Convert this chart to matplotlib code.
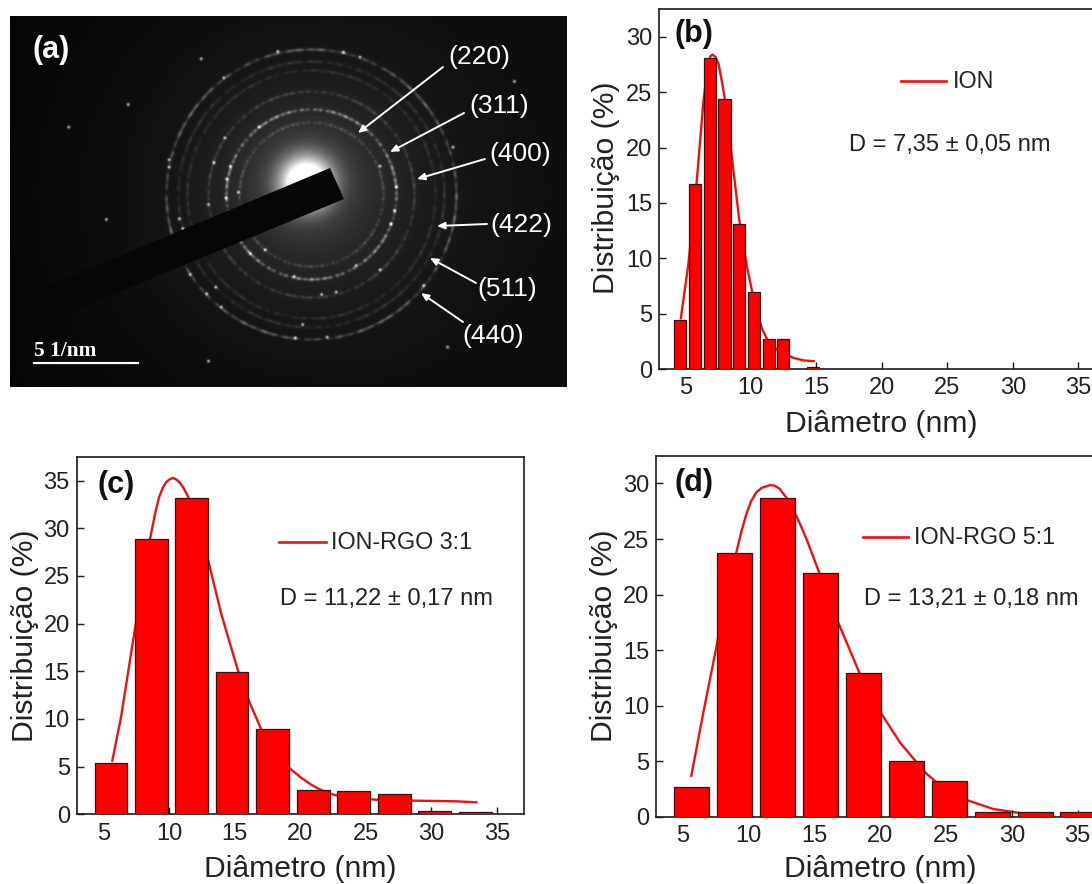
import numpy as np
import matplotlib
matplotlib.use("Agg")
import matplotlib.pyplot as plt
from matplotlib.lines import Line2D
from matplotlib.patches import Polygon

plt.rcParams['font.family'] = ['Liberation Sans', 'DejaVu Sans']

W, H = 1092, 884
RED = '#ff0000'
DARK = '#1c1c1c'

# ---- histogram data ----
b_centers = [4.6, 5.74, 6.86, 8.0, 9.12, 10.24, 11.39, 12.48, 14.75]
b_heights = [4.4, 16.7, 28.1, 24.4, 13.1, 7.0, 2.7, 2.7, 0.2]
b_curve_x = [4.67, 5.25, 5.89, 6.4, 6.6, 6.78, 6.95, 7.11, 7.3, 7.54, 7.75, 8.0, 8.56, 9.12, 9.71, 10.24, 10.5, 10.85, 11.2, 11.49, 12.0, 12.5, 13.27, 14.03, 14.8]
b_curve_y = [4.6, 9.57, 17.09, 24.3, 26.2, 27.9, 28.3, 28.4, 28.2, 27.6, 26.3, 24.6, 19.2, 13.5, 9.27, 6.26, 5.0, 3.7, 2.8, 2.2, 1.75, 1.44, 1.0, 0.78, 0.7]

c_centers = [5.55, 8.64, 11.72, 14.78, 17.9, 20.98, 24.07, 27.18, 30.26, 33.35]
c_heights = [5.4, 28.9, 33.2, 14.9, 8.95, 2.6, 2.4, 2.15, 0.35, 0.2]
c_curve_x = [5.66, 6.32, 7.24, 7.9, 8.56, 8.9, 9.22, 9.5, 9.75, 10.0, 10.27, 10.55, 10.8, 11.1, 11.46, 12.91, 13.97, 15.28, 16.08, 17.0, 18.0, 19.24, 20.0, 20.82, 21.5, 22.14, 23.0, 23.99, 26.1, 28.73, 31.9, 33.43]
c_curve_y = [5.63, 10.17, 18.2, 23.8, 29.06, 31.4, 33.25, 34.2, 34.8, 35.1, 35.28, 35.1, 34.8, 34.2, 33.25, 26.96, 21.0, 14.9, 11.9, 8.95, 6.9, 4.76, 3.9, 3.11, 2.6, 2.2, 1.9, 1.71, 1.5, 1.43, 1.36, 1.26]

d_centers = [5.66, 8.95, 12.2, 15.47, 18.75, 21.99, 25.24, 28.54, 31.78, 35.03]
d_heights = [2.7, 23.7, 28.7, 21.9, 12.9, 5.0, 3.2, 0.4, 0.4, 0.4]
d_curve_x = [5.66, 6.55, 7.61, 8.32, 9.08, 9.45, 9.84, 10.2, 10.6, 11.0, 11.62, 12.0, 12.38, 12.9, 13.39, 13.9, 14.41, 15.42, 16.82, 18.47, 20.12, 21.51, 22.78, 23.5, 24.3, 25.4, 26.58, 28.61, 30.64]
d_curve_y = [3.69, 9.24, 15.54, 20.64, 23.79, 25.6, 27.24, 28.4, 29.2, 29.6, 29.85, 29.8, 29.5, 28.7, 27.7, 26.4, 25.0, 21.84, 17.49, 12.84, 9.24, 6.69, 4.89, 3.9, 3.09, 2.2, 1.5, 0.69, 0.33]

x_ticks = [5, 10, 15, 20, 25, 30, 35]
y_ticks_bd = [0, 5, 10, 15, 20, 25, 30]
y_ticks_c = [0, 5, 10, 15, 20, 25, 30, 35]

# ---- diffraction pattern ----
ring_labels = ['(220)', '(311)', '(400)', '(422)', '(511)', '(440)']
ring_radii = [72, 85, 103, 124, 133, 145]
ring_gain = [0.13, 0.36, 0.13, 0.09, 0.10, 0.26]
spot_zoom_x = [708, 615, 585, 630, 620, 652, 618, 570, 490, 500, 462, 462, 350, 290, 187, 550, 1408, 520, 590, 605, 565, 725, 685, 880, 920, 828, 808, 895, 1040, 975, 805, 1070, 1080, 1040, 1085, 1240, 1160, 1225, 570, 612, 760, 940, 985]
spot_zoom_y = [380, 412, 487, 497, 535, 575, 592, 612, 655, 685, 478, 500, 312, 657, 380, 175, 243, 822, 860, 920, 880, 748, 760, 882, 875, 972, 1012, 1010, 808, 795, 828, 670, 630, 497, 560, 440, 855, 1040, 1082, 232, 153, 155, 170]


def px_axes(l, t, r, b):
    return fig.add_axes([l / W, 1 - b / H, (r - l) / W, (b - t) / H])


def ftext(x, y, s, **kw):
    kw.setdefault('ha', 'left')
    kw.setdefault('va', 'center')
    fig.text(x / W, 1 - y / H, s, **kw)


def fline(x0, x1, y):
    fig.add_artist(Line2D([x0 / W, x1 / W], [1 - y / H, 1 - y / H], color='#ee1111', lw=1.9))


def hist_panel(box, xlim, ylim, yt, cen, hei, width, cx, cy, tag, tagxy, legend, legline, legx, dtext, dx, dy, xlabxy, ylabxy, clip_right):
    ax = px_axes(*box)
    ax.plot(cx, cy, color='#ee1111', lw=1.7, zorder=2, solid_joinstyle='round')
    ax.bar(cen, hei, width=width, color=RED, edgecolor='#3a1010', linewidth=0.9, zorder=3)
    ax.set_xlim(*xlim)
    ax.set_ylim(*ylim)
    ax.set_xticks(x_ticks)
    ax.set_yticks(yt)
    ax.tick_params(direction='in', length=5, width=1.0, labelsize=17, pad=6, color=DARK, labelcolor='#222222')
    ax.tick_params(axis='y', pad=5)
    for s in ax.spines.values():
        s.set_linewidth(1.2)
        s.set_color(DARK)
    if clip_right:
        ax.spines['right'].set_visible(False)
    ax.set_axisbelow(False)
    ftext(tagxy[0], tagxy[1], tag, fontsize=22, fontweight='bold', color='#111111')
    fline(legline[0], legline[1], legline[2])
    ftext(legx, legline[2] + 0.5, legend, fontsize=16.8, color='#222222')
    ftext(dx, dy + 1, dtext, fontsize=17, color='#222222')
    ftext(xlabxy[0], xlabxy[1], 'Diâmetro (nm)', fontsize=21.7, ha='center', color='#222222')
    ftext(ylabxy[0] + 2.5, ylabxy[1], 'Distribuição (%)', fontsize=21.7, ha='center', rotation=90, color='#222222')
    return ax


fig = plt.figure(figsize=(W / 100, H / 100), dpi=100, facecolor='white')

# ---- panel (a) ----
L, T, R, B = 10, 16, 567, 387
ax = px_axes(L, T, R, B)
yy, xx = np.mgrid[T:B, L:R].astype(float)
cx0, cy0 = 311.0, 194.0
r = np.hypot(xx - cx0, yy - cy0)
th = np.arctan2(yy - cy0, xx - cx0)
rg = np.hypot(xx - 306, yy - 182)
img = 0.02 + 0.09 * np.exp(-(r / 190.0) ** 2) + 0.02 * np.clip((xx - 300) / 270, 0, 1) \
    + 0.34 * np.exp(-rg / 42.0) + 1.2 * np.exp(-(rg / 24.0) ** 2)
for rad, g in zip(ring_radii, ring_gain):
    mod = 0.62 + 0.22 * np.sin(7 * th + rad) + 0.22 * np.sin(37 * th + 2 * rad) + 0.25 * np.sin(83 * th + rad)
    img += g * np.clip(mod, 0.1, None) * np.exp(-((r - rad) / 1.6) ** 2)
for zx, zy in zip(spot_zoom_x, spot_zoom_y):
    img += 0.6 * np.exp(-((xx - zx / 2.74) ** 2 + (yy - zy / 3.0) ** 2) / 2.5)
ax.imshow(np.clip(img, 0, 1), cmap='gray', vmin=0, vmax=1, extent=(L, R, B, T), aspect='auto', interpolation='bilinear')
ax.add_patch(Polygon([(330, 168), (344, 199), (10, 337), (10, 302)], closed=True, fc='#060606', ec='none'))
ax.set_xlim(L, R)
ax.set_ylim(B, T)
ax.axis('off')
label_x = [479, 499, 520, 521, 507, 493]
label_y = [57, 106, 154, 225, 289, 336]
arrow_from = [(443, 67), (464, 113), (485, 159), (487, 224), (476, 283), (463, 322)]
arrow_to = [(358, 133), (390, 152), (417, 179), (437, 226), (430, 258), (421, 293)]
for s, lx, ly, a0, a1 in zip(ring_labels, label_x, label_y, arrow_from, arrow_to):
    ax.annotate('', xy=a1, xytext=a0, arrowprops=dict(arrowstyle='-|>,head_length=0.45,head_width=0.2', color='white', lw=1.4, shrinkA=0, shrinkB=0))
    ax.text(lx, ly, s, color='white', fontsize=19, ha='center', va='center')
ax.text(33, 50, '(a)', color='white', fontsize=22, fontweight='bold', va='center')
ax.plot([34, 138], [363, 363], color='white', lw=1.6)
ax.text(34, 351, '5 1/nm', color='white', fontsize=15.4, fontweight='bold', family='Liberation Serif', va='center')

# ---- panels (b), (c), (d) ----
hist_panel((659, 9.3, 1092, 369), (3, 36.05), (0, 32.5), y_ticks_bd, b_centers, b_heights, 0.92,
           b_curve_x, b_curve_y, '(b)', (675, 34), 'ION', (900.7, 946, 81), 953,
           'D = 7,35 ± 0,05 nm', 849, 144, (881.7, 424), (603, 188), True)
hist_panel((76.7, 456.7, 523.7, 814.3), (2.94, 37.04), (0, 37.5), y_ticks_c, c_centers, c_heights, 2.5,
           c_curve_x, c_curve_y, '(c)', (97.5, 485), 'ION-RGO 3:1', (279, 325.6, 541.7), 331,
           'D = 11,22 ± 0,17 nm', 280, 598, (300, 869), (23, 636), False)
hist_panel((656.3, 455.7, 1092, 816.7), (3, 36.1), (0, 32.5), y_ticks_bd, d_centers, d_heights, 2.66,
           d_curve_x, d_curve_y, '(d)', (675, 483), 'ION-RGO 5:1', (862.7, 908, 536.7), 914,
           'D = 13,21 ± 0,18 nm', 864, 598, (880, 869), (602, 636), True)

fig.savefig('out.png', dpi=100, facecolor='white')
